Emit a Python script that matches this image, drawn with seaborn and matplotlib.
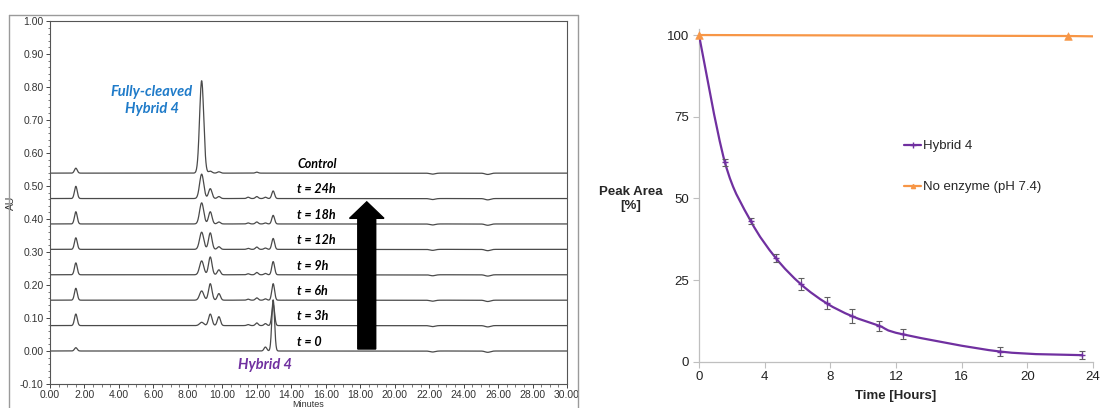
import numpy as np
import pandas as pd
import matplotlib.pyplot as plt
import seaborn as sns
from matplotlib.lines import Line2D
from matplotlib.path import Path
from matplotlib.patches import PathPatch, FancyArrow
from matplotlib.ticker import MultipleLocator, FormatStrFormatter

# --- chromatogram (left panel) ---
trace_names = ["t = 0", "t = 3h", "t = 6h", "t = 9h", "t = 12h", "t = 18h", "t = 24h", "Control"]
trace_offsets = [0.000, 0.077, 0.154, 0.231, 0.308, 0.385, 0.462, 0.539]
peak_times = [1.50, 8.80, 9.30, 9.80, 11.50, 12.00, 12.50, 12.95]
peak_widths = [0.08, 0.12, 0.10, 0.09, 0.08, 0.08, 0.08, 0.08]
peak_heights = [
    [0.010, 0.000, 0.000, 0.000, 0.000, 0.000, 0.012, 0.155],  # t = 0
    [0.035, 0.010, 0.035, 0.027, 0.003, 0.008, 0.006, 0.065],  # t = 3h
    [0.036, 0.028, 0.050, 0.020, 0.003, 0.007, 0.004, 0.050],  # t = 6h
    [0.036, 0.042, 0.054, 0.015, 0.003, 0.007, 0.004, 0.040],  # t = 9h
    [0.035, 0.052, 0.050, 0.008, 0.003, 0.007, 0.004, 0.033],  # t = 12h
    [0.037, 0.064, 0.037, 0.006, 0.003, 0.006, 0.003, 0.026],  # t = 18h
    [0.037, 0.074, 0.030, 0.006, 0.004, 0.006, 0.004, 0.023],  # t = 24h
    [0.015, 0.280, 0.006, 0.004, 0.000, 0.003, 0.000, 0.000],  # Control
]
# small baseline disturbances (time, depth)
dip_times = [22.2, 25.4]
dip_depths = [-0.003, -0.004]

# --- kinetics (right panel) ---
hybrid_time = [0.0, 1.58, 3.15, 4.67, 6.21, 7.77, 9.29, 10.97, 12.40, 18.36, 23.35]
hybrid_area = [100.0, 61.0, 43.1, 31.8, 23.7, 17.9, 14.0, 11.0, 8.4, 3.1, 2.0]
hybrid_err = [0.0, 1.0, 1.0, 1.2, 1.8, 1.8, 2.0, 1.5, 1.6, 1.3, 1.2]
noenz_time = [0.0, 22.5, 24.0]
noenz_area = [100.0, 99.7, 99.6]

PURPLE = "#7030a0"
ORANGE = "#f79646"
GREY = "#4a4a4a"


def chrom_trace(t, heights, offset):
    y = np.full_like(t, offset)
    for tp, h, w in zip(peak_times, heights, peak_widths):
        y += h * np.exp(-0.5 * ((t - tp) / w) ** 2)
    for tp, d in zip(dip_times, dip_depths):
        y += d * np.exp(-0.5 * ((t - tp) / 0.15) ** 2)
    return y


def smooth_path(xs, ys):
    # Excel-like smoothed line: Catmull-Rom converted to cubic Bezier
    pts = np.column_stack([xs, ys])
    n = len(pts)
    verts = [pts[0]]
    codes = [Path.MOVETO]
    for i in range(n - 1):
        p_prev = pts[max(i - 1, 0)]
        p0, p1 = pts[i], pts[i + 1]
        p_next = pts[min(i + 2, n - 1)]
        c1 = p0 + (p1 - p_prev) / 6.0
        c2 = p1 - (p_next - p0) / 6.0
        verts += [c1, c2, p1]
        codes += [Path.CURVE4] * 3
    return Path(verts, codes)


sns.set_style("white")
plt.rcParams["font.family"] = ["Liberation Sans", "DejaVu Sans"]

fig = plt.figure(figsize=(11, 4.08), dpi=100)

# ---------------- left panel ----------------
axL = fig.add_axes([50 / 1100, 24 / 408, 517 / 1100, 363 / 408])
t = np.linspace(0, 30, 3001)
rows = []
for name, off, hts in zip(trace_names, trace_offsets, peak_heights):
    rows.append(pd.DataFrame({"Minutes": t, "AU": chrom_trace(t, hts, off), "trace": name}))
chrom = pd.concat(rows, ignore_index=True)
sns.lineplot(data=chrom, x="Minutes", y="AU", units="trace", estimator=None,
             sort=False, color=GREY, lw=0.9, ax=axL)

axL.set_xlim(0, 30)
axL.set_ylim(-0.10, 1.00)
axL.xaxis.set_major_locator(MultipleLocator(2))
axL.xaxis.set_minor_locator(MultipleLocator(0.5))
axL.yaxis.set_major_locator(MultipleLocator(0.1))
axL.yaxis.set_minor_locator(MultipleLocator(0.02))
axL.xaxis.set_major_formatter(FormatStrFormatter("%.2f"))
axL.yaxis.set_major_formatter(FormatStrFormatter("%.2f"))
axL.tick_params(axis="both", which="major", direction="out", length=3, width=0.7,
                labelsize=7.5, labelcolor="#333333", color="#444444", pad=1.5,
                bottom=True, left=True)
axL.tick_params(axis="both", which="minor", direction="out", length=1.8, width=0.5,
                color="#444444", bottom=True, left=True)
for sp in axL.spines.values():
    sp.set_color("#555555")
    sp.set_linewidth(0.8)
axL.set_xlabel("Minutes", fontsize=6.5, color="#333333", labelpad=0)
axL.set_ylabel("AU", fontsize=7.5, color="#333333", labelpad=3)

for name, off in zip(trace_names, trace_offsets):
    axL.text(14.35, off + 0.028, name, fontsize=9, fontweight="bold", style="italic",
             family=["Lato", "DejaVu Sans"], ha="left", va="center", color="black")

axL.text(5.9, 0.76, "Fully-cleaved\nHybrid 4", fontsize=10.5, fontweight="bold",
         style="italic", family=["Lato", "DejaVu Sans"], color="#1f7bc9",
         ha="center", va="center", linespacing=1.25)
axL.text(12.5, -0.042, "Hybrid 4", fontsize=10.5, fontweight="bold", style="italic",
         family=["Lato", "DejaVu Sans"], color="#7030a0", ha="center", va="center")

axL.add_patch(FancyArrow(18.38, 0.006, 0.0, 0.446, width=1.04, head_width=2.0,
                         head_length=0.05, length_includes_head=True,
                         color="black", zorder=5))

# outer frame around the chromatogram screenshot
fx0, fx1, fy_top = 9 / 1100, 578 / 1100, 1 - 15 / 408
fig.add_artist(Line2D([fx0, fx0], [0, fy_top], color="#9a9a9a", lw=1))
fig.add_artist(Line2D([fx1, fx1], [0, fy_top], color="#9a9a9a", lw=1))
fig.add_artist(Line2D([fx0, fx1], [fy_top, fy_top], color="#9a9a9a", lw=1))

# ---------------- right panel ----------------
axR = fig.add_axes([699 / 1100, 46.3 / 408, 394 / 1100, 333.2 / 408])
axR.add_patch(PathPatch(smooth_path(hybrid_time, hybrid_area), fill=False,
                        edgecolor=PURPLE, lw=1.6, zorder=3))
axR.errorbar(hybrid_time[1:], hybrid_area[1:], yerr=hybrid_err[1:], fmt="none",
             ecolor="#606060", elinewidth=0.8, capsize=2, capthick=0.8, zorder=4)
sns.scatterplot(x=hybrid_time[1:], y=hybrid_area[1:], marker="+", s=18,
                color=PURPLE, linewidth=1.0, ax=axR, zorder=5)
sns.lineplot(x=noenz_time, y=noenz_area, color=ORANGE, lw=1.6, ax=axR, zorder=4)
sns.scatterplot(x=noenz_time[:2], y=noenz_area[:2], marker="^", s=30,
                color=ORANGE, edgecolor=ORANGE, ax=axR, zorder=6, clip_on=False)

axR.set_xlim(0, 24)
axR.set_ylim(0, 102)
axR.set_xticks([0, 4, 8, 12, 16, 20, 24])
axR.set_yticks([0, 25, 50, 75, 100])
axR.tick_params(axis="both", direction="out", length=4, width=0.8, color="#bfbfbf",
                labelsize=9.5, labelcolor="#222222", bottom=True, left=True, pad=3)
for side in ["top", "right"]:
    axR.spines[side].set_visible(False)
for side in ["left", "bottom"]:
    axR.spines[side].set_color("#bfbfbf")
    axR.spines[side].set_linewidth(0.9)
axR.set_xlabel("Time [Hours]", fontsize=9.5, fontweight="bold", labelpad=5)
axR.set_ylabel("")
fig.text(631 / 1100, 1 - 199 / 408, "Peak Area\n[%]", fontsize=9.5, fontweight="bold",
         ha="center", va="center", linespacing=1.3)

handles = [
    Line2D([], [], color=PURPLE, lw=1.6, marker="+", markersize=4),
    Line2D([], [], color=ORANGE, lw=1.6, marker="^", markersize=3),
]
fig.legend(handles, ["Hybrid 4", "No enzyme (pH 7.4)"], loc="upper left",
           bbox_to_anchor=(904 / 1100, 1 - 140 / 408), frameon=False, fontsize=9.5,
           handlelength=1.3, handletextpad=0.15, labelspacing=2.2, borderpad=0,
           borderaxespad=0)

fig.savefig("out.png", dpi=100)
